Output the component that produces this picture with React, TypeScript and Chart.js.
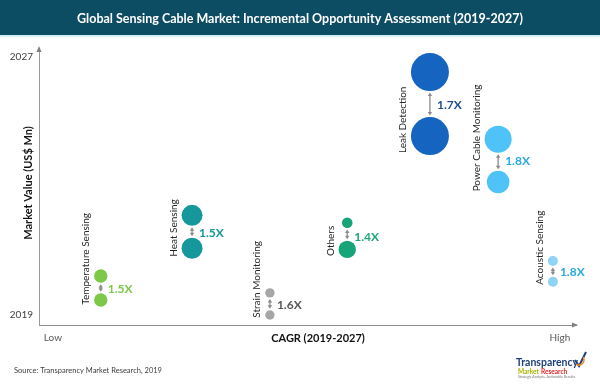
import { useEffect, useRef } from 'react';
import { Chart, registerables } from 'chart.js';

Chart.register(...registerables);

const FONT = 'Lato, "Open Sans", "DejaVu Sans", sans-serif';

const chartTitle = 'Global Sensing Cable Market: Incremental Opportunity Assessment (2019-2027)';
const yAxisTitle = 'Market Value (US$ Mn)';
const xAxisTitle = 'CAGR (2019-2027)';
const sourceNote = 'Source: Transparency Market Research, 2019';

const categories = [
  'Temperature Sensing',
  'Heat Sensing',
  'Strain Monitoring',
  'Others',
  'Leak Detection',
  'Power Cable Monitoring',
  'Acoustic Sensing',
];
// relative CAGR position (Low = 0 ... High = 100)
const cagrPosition = [11.5, 28.5, 43.0, 57.4, 72.8, 85.5, 95.7];
// relative market value position (2019 ... 2027 axis)
const value2019 = [9.0, 27.7, 3.6, 27.3, 68.2, 51.6, 15.6];
const value2027 = [17.7, 39.6, 11.6, 36.9, 91.3, 67.1, 23.1];
// bubble size (market size)
const size2019 = [6.7, 10.5, 4.7, 8.7, 19, 11.3, 5];
const size2027 = [6.7, 10.5, 4.7, 5.3, 19, 13.5, 5];
const growthLabels = ['1.5X', '1.5X', '1.6X', '1.4X', '1.7X', '1.8X', '1.8X'];
const bubbleColors = ['#7cc84b', '#15979b', '#a6a6a6', '#16a478', '#1565c0', '#4fc3f7', '#8fd4f7'];
const growthColors = ['#7cc84b', '#15979b', '#595959', '#1fa57b', '#1f4e8c', '#2aa9e2', '#2aa9e2'];

const yTickValues = [3.6, 96.8];
const yTickLabels = ['2019', '2027'];
const xTickValues = [2.6, 97.0];
const xTickLabels = ['Low', 'High'];

export default function App() {
  const ref = useRef<HTMLCanvasElement>(null);

  useEffect(() => {
    document.body.style.margin = '0';
    const canvas = ref.current!;

    const decor = {
      id: 'decor',
      beforeDraw(chart: any) {
        const ctx = chart.ctx;
        ctx.save();
        ctx.fillStyle = '#ffffff';
        ctx.fillRect(0, 0, chart.width, chart.height);
        ctx.fillStyle = '#0c4d64';
        ctx.fillRect(0, 0, chart.width, 35);
        ctx.fillStyle = '#d3eef4';
        ctx.fillRect(0, 35, chart.width, 2);
        ctx.restore();
      },
      afterDatasetsDraw(chart: any) {
        const ctx = chart.ctx;
        const xs = chart.scales.x;
        const ys = chart.scales.y;
        const area = chart.chartArea;
        ctx.save();

        // axis arrowheads
        ctx.fillStyle = '#7f7f7f';
        ctx.beginPath();
        ctx.moveTo(area.left, area.top - 2);
        ctx.lineTo(area.left - 2.5, area.top + 4);
        ctx.lineTo(area.left + 2.5, area.top + 4);
        ctx.closePath();
        ctx.fill();
        ctx.beginPath();
        ctx.moveTo(area.right + 2, area.bottom);
        ctx.lineTo(area.right - 4, area.bottom - 2.5);
        ctx.lineTo(area.right - 4, area.bottom + 2.5);
        ctx.closePath();
        ctx.fill();

        categories.forEach((name, i) => {
          const cx = xs.getPixelForValue(cagrPosition[i]);
          const yTop = ys.getPixelForValue(value2027[i]);
          const yBot = ys.getPixelForValue(value2019[i]);
          const rTop = size2027[i];
          const rBot = size2019[i];
          const maxR = Math.max(rTop, rBot);

          // double-headed arrow between bubbles
          const a0 = yTop + rTop + 1.5;
          const a1 = yBot - rBot - 1.5;
          ctx.strokeStyle = '#8a8a8a';
          ctx.fillStyle = '#8a8a8a';
          ctx.lineWidth = 1.3;
          ctx.beginPath();
          ctx.moveTo(cx, a0 + 2);
          ctx.lineTo(cx, a1 - 2);
          ctx.stroke();
          ctx.beginPath();
          ctx.moveTo(cx, a0);
          ctx.lineTo(cx - 2.2, a0 + 3.5);
          ctx.lineTo(cx + 2.2, a0 + 3.5);
          ctx.closePath();
          ctx.fill();
          ctx.beginPath();
          ctx.moveTo(cx, a1);
          ctx.lineTo(cx - 2.2, a1 - 3.5);
          ctx.lineTo(cx + 2.2, a1 - 3.5);
          ctx.closePath();
          ctx.fill();

          // growth label
          ctx.font = `bold 12px ${FONT}`;
          ctx.fillStyle = growthColors[i];
          ctx.textAlign = 'left';
          ctx.textBaseline = 'middle';
          ctx.fillText(growthLabels[i], cx + 7, (yTop + yBot) / 2 + 1);

          // rotated category label
          ctx.save();
          ctx.translate(cx - maxR - 8, yBot + rBot - 2);
          ctx.rotate(-Math.PI / 2);
          ctx.font = `10px ${FONT}`;
          ctx.fillStyle = '#262626';
          ctx.textAlign = 'left';
          ctx.textBaseline = 'middle';
          ctx.fillText(name, 0, 0);
          ctx.restore();
        });

        // title
        ctx.font = `bold 12.5px ${FONT}`;
        ctx.fillStyle = '#ffffff';
        ctx.textAlign = 'center';
        ctx.textBaseline = 'middle';
        ctx.fillText(chartTitle, 300, 18.5);

        // y axis title
        ctx.save();
        ctx.translate(28, 183);
        ctx.rotate(-Math.PI / 2);
        ctx.font = `bold 11px ${FONT}`;
        ctx.fillStyle = '#111111';
        ctx.textAlign = 'center';
        ctx.textBaseline = 'middle';
        ctx.fillText(yAxisTitle, 0, 0);
        ctx.restore();

        // x axis title
        ctx.font = `bold 11px ${FONT}`;
        ctx.fillStyle = '#111111';
        ctx.textAlign = 'center';
        ctx.textBaseline = 'middle';
        ctx.fillText(xAxisTitle, 318, 338);

        // source
        ctx.font = `7.5px ${FONT}`;
        ctx.fillStyle = '#404040';
        ctx.textAlign = 'left';
        ctx.fillText(sourceNote, 14, 371);

        // logo
        ctx.font = `bold 10.5px ${FONT}`;
        ctx.fillStyle = '#1d4079';
        ctx.textAlign = 'left';
        ctx.fillText('Transparency', 516, 363);
        ctx.font = `bold 6.5px ${FONT}`;
        ctx.fillStyle = '#a9b400';
        ctx.fillText('Market', 518, 372);
        ctx.fillStyle = '#e0262b';
        ctx.fillText('Research', 541, 372);
        ctx.font = `3.5px ${FONT}`;
        ctx.fillStyle = '#777777';
        ctx.fillText('Strategic Analysis. Actionable Results', 518, 377);
        // check mark
        ctx.lineWidth = 2;
        ctx.strokeStyle = '#1d4079';
        ctx.beginPath();
        ctx.moveTo(575, 360);
        ctx.lineTo(579, 366);
        ctx.lineTo(586, 352);
        ctx.stroke();
        ctx.strokeStyle = '#f08a24';
        ctx.lineWidth = 1.5;
        ctx.beginPath();
        ctx.arc(579, 360, 5, -0.6, 2.2);
        ctx.stroke();

        ctx.restore();
      },
    };

    const chart = new Chart(canvas, {
      type: 'bubble',
      data: {
        datasets: [
          {
            label: '2027',
            data: categories.map((_, i) => ({ x: cagrPosition[i], y: value2027[i], r: size2027[i] })),
            backgroundColor: bubbleColors,
            borderWidth: 0,
            clip: false,
          },
          {
            label: '2019',
            data: categories.map((_, i) => ({ x: cagrPosition[i], y: value2019[i], r: size2019[i] })),
            backgroundColor: bubbleColors,
            borderWidth: 0,
            clip: false,
          },
        ],
      } as any,
      options: {
        responsive: false,
        animation: false,
        devicePixelRatio: 1,
        layout: { padding: { left: 0, top: 48, right: 24, bottom: 0 } },
        plugins: {
          legend: { display: false },
          title: { display: false },
          tooltip: { enabled: false },
        },
        scales: {
          x: {
            type: 'linear',
            position: 'bottom',
            min: 0,
            max: 100,
            afterFit: (s: any) => { s.height = 59; },
            afterBuildTicks: (s: any) => { s.ticks = xTickValues.map((v) => ({ value: v })); },
            ticks: {
              autoSkip: false,
              maxRotation: 0,
              padding: 7,
              color: '#595959',
              font: { family: FONT, size: 10 },
              callback: (_v: any, i: number) => xTickLabels[i],
            },
            grid: { display: false, drawTicks: false },
            border: { display: true, color: '#8c8c8c', width: 1 },
          },
          y: {
            type: 'linear',
            position: 'left',
            min: 0,
            max: 100,
            afterFit: (s: any) => { s.width = 39; },
            afterBuildTicks: (s: any) => { s.ticks = yTickValues.map((v) => ({ value: v })); },
            ticks: {
              autoSkip: false,
              padding: 6,
              color: '#404040',
              font: { family: FONT, size: 10 },
              callback: (_v: any, i: number) => yTickLabels[i],
            },
            grid: { display: false, drawTicks: false },
            border: { display: true, color: '#9a9a9a', width: 1 },
          },
        },
      } as any,
      plugins: [decor],
    });
    return () => chart.destroy();
  }, []);

  return (
    <div style={{ width: 600, height: 384 }}>
      <canvas ref={ref} width={600} height={384} style={{ display: 'block' }} />
    </div>
  );
}
